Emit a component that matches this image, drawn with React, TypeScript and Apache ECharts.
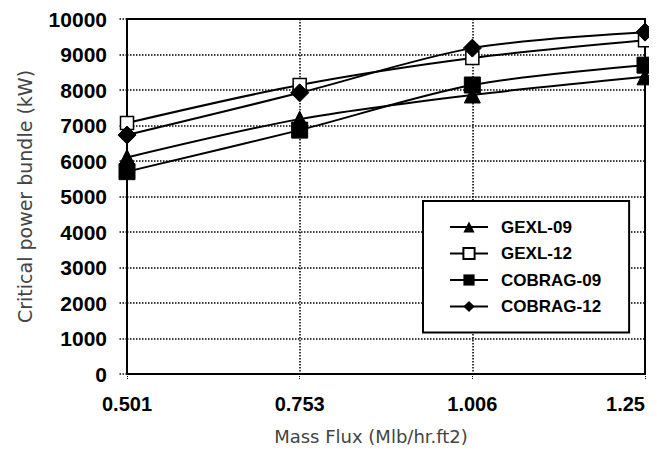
import React, { useEffect, useRef } from "react";
import * as echarts from "echarts";

const categories = ["0.501", "0.753", "1.006", "1.25"];
const gexl09 = [6100, 7180, 7860, 8370];
const gexl12 = [7070, 8140, 8900, 9400];
const cobrag09 = [5700, 6870, 8140, 8700];
const cobrag12 = [6730, 7920, 9180, 9630];

const LABEL = "'Liberation Sans', Arial, sans-serif";
const TITLE = "'DejaVu Sans', sans-serif";

export default function App() {
  const ref = useRef<HTMLDivElement>(null);
  useEffect(() => {
    const chart = echarts.init(ref.current!, null, { renderer: "svg" });
    const base = {
      type: "line",
      smooth: 0.3,
      lineStyle: { color: "#000", width: 2 },
      itemStyle: { color: "#000", borderColor: "#000" },
    };
    chart.setOption({
      animation: false,
      backgroundColor: "#fff",
      grid: {
        left: 119,
        right: 4,
        top: 11,
        bottom: 72,
        outerBoundsMode: "none",
        containLabel: false,
        show: true,
        borderColor: "#000",
        borderWidth: 2,
      },
      legend: {
        orient: "vertical",
        left: 415,
        top: 193,
        padding: [15.5, 28, 15.5, 26],
        itemGap: 5.5,
        itemWidth: 38,
        itemHeight: 14,
        borderColor: "#000",
        borderWidth: 2,
        backgroundColor: "#fff",
        textStyle: {
          fontFamily: LABEL,
          fontWeight: "bold",
          fontSize: 17,
          lineHeight: 21,
          color: "#000",
          padding: [0, 0, 0, 8],
        },
        data: ["GEXL-09", "GEXL-12", "COBRAG-09", "COBRAG-12"],
      },
      xAxis: {
        type: "category",
        data: categories,
        boundaryGap: false,
        name: "Mass Flux (Mlb/hr.ft2)",
        nameLocation: "middle",
        nameGap: 53,
        nameTextStyle: { fontFamily: TITLE, fontSize: 18, color: "#444", padding: [0, 30, 0, 0] },
        axisLine: { lineStyle: { color: "#000", width: 2 } },
        axisTick: { show: true, length: 6, lineStyle: { color: "#000", type: "dotted" } },
        axisLabel: {
          fontFamily: LABEL,
          fontWeight: "bold",
          fontSize: 20,
          color: "#000",
          margin: 20,
          alignMaxLabel: "right",
        },
        splitLine: { show: true, lineStyle: { color: "#000", type: "dotted", width: 1.5 } },
      },
      yAxis: {
        type: "value",
        min: 0,
        max: 10000,
        interval: 1000,
        name: "Critical power bundle (kW)",
        nameLocation: "middle",
        nameGap: 93,
        nameTextStyle: { fontFamily: TITLE, fontSize: 19, color: "#444" },
        axisLine: { show: true, lineStyle: { color: "#000", width: 2 } },
        axisTick: { show: true, length: 8, lineStyle: { color: "#000", type: "dotted", width: 1.5 } },
        axisLabel: {
          fontFamily: LABEL,
          fontWeight: "bold",
          fontSize: 21,
          color: "#000",
          margin: 20,
          formatter: (v: number) => String(v),
        },
        splitLine: { show: true, lineStyle: { color: "#000", type: "dotted", width: 1.5 } },
      },
      series: [
        { ...base, name: "GEXL-09", data: gexl09, symbol: "triangle", symbolSize: 16 },
        {
          ...base,
          name: "GEXL-12",
          data: gexl12,
          symbol: "rect",
          symbolSize: 13,
          itemStyle: { color: "#fff", borderColor: "#000", borderWidth: 1.5 },
        },
        { ...base, name: "COBRAG-09", data: cobrag09, symbol: "rect", symbolSize: 16 },
        { ...base, name: "COBRAG-12", data: cobrag12, symbol: "diamond", symbolSize: 18 },
      ],
    });
    return () => chart.dispose();
  }, []);
  return <div ref={ref} style={{ width: 641, height: 438 }} />;
}
